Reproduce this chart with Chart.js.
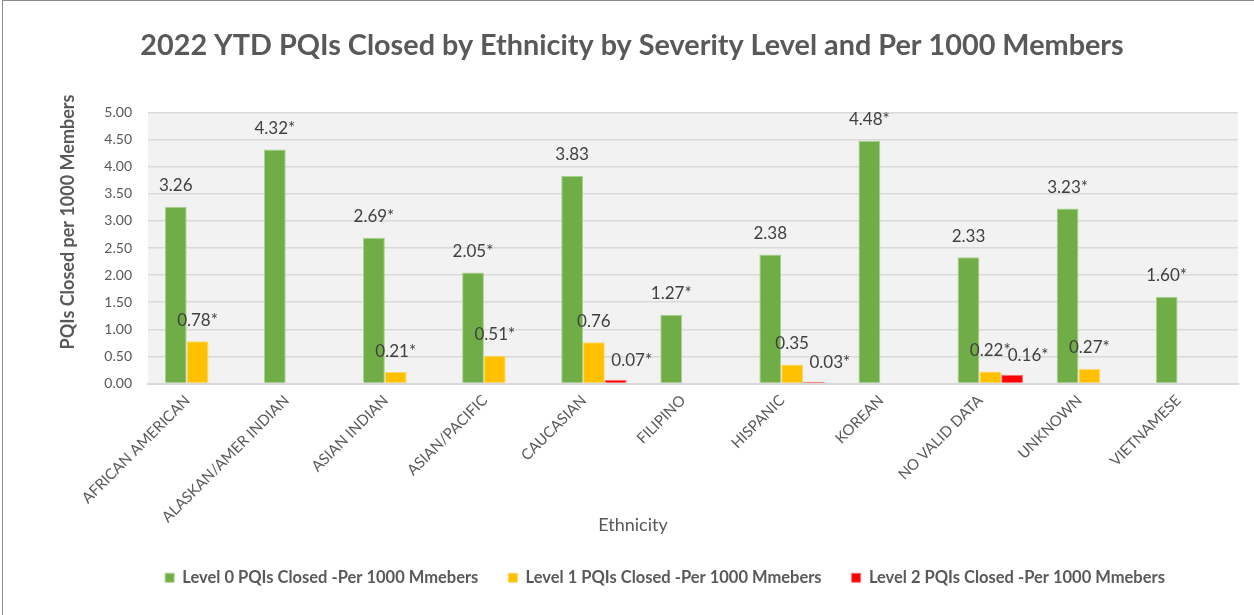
<!DOCTYPE html>
<html>
<head>
<meta charset="utf-8">
<script src="https://cdn.jsdelivr.net/npm/chart.js@4"></script>
<style>
  body { margin: 0; background: #fff; }
  #wrap { position: relative; width: 1254px; height: 615px; }
  #frame { position: absolute; left: 2px; top: 0; width: 1260px; height: 620px;
           border-top: 1px solid #8c8c8c; border-left: 1px solid #8c8c8c; pointer-events: none; }
</style>
</head>
<body>
<div id="wrap">
  <canvas id="pqiChart" width="1254" height="615"></canvas>
  <div id="frame"></div>
</div>
<script>
const ethnicities = ['AFRICAN AMERICAN', 'ALASKAN/AMER INDIAN', 'ASIAN INDIAN', 'ASIAN/PACIFIC', 'CAUCASIAN',
  'FILIPINO', 'HISPANIC', 'KOREAN', 'NO VALID DATA', 'UNKNOWN', 'VIETNAMESE'];

const level0 = [3.26, 4.32, 2.69, 2.05, 3.83, 1.27, 2.38, 4.48, 2.33, 3.23, 1.60];
const level1 = [0.78, null, 0.21, 0.51, 0.76, null, 0.35, null, 0.22, 0.27, null];
const level2 = [null, null, null, null, 0.07, null, 0.03, null, 0.16, null, null];

// asterisk markers shown after the value
const level0Flags = ['', '*', '*', '*', '', '*', '', '*', '', '*', '*'];
const level1Flags = ['*', '', '*', '*', '', '', '', '', '*', '*', ''];
const level2Flags = ['', '', '', '', '*', '', '*', '', '*', '', ''];

const yTicks = [0, 0.5, 1, 1.5, 2, 2.5, 3, 3.5, 4, 4.5, 5];

const xTitle = 'Ethnicity';
const yTitle = 'PQIs Closed per 1000 Members';

const txt = '#595959';
const fontFam = 'Lato, "Open Sans", sans-serif';

const plotBg = {
  id: 'plotBg',
  beforeDraw(c) {
    const a = c.chartArea, ctx = c.ctx;
    ctx.save();
    ctx.fillStyle = '#F2F2F2';
    ctx.fillRect(a.left, a.top, a.right - a.left, a.bottom - a.top);
    ctx.restore();
  }
};

// nudge title and legend the way the original sits them
const nudge = {
  id: 'nudge',
  afterLayout(c) {
    c.titleBlock.left += 13; c.titleBlock.right += 13;
    c.legend.left += 46; c.legend.right += 46;
  }
};

const axisTitles = {
  id: 'axisTitles',
  afterDraw(c) {
    const ctx = c.ctx;
    ctx.save();
    ctx.fillStyle = txt;
    ctx.textAlign = 'center';
    ctx.textBaseline = 'middle';
    ctx.font = '18px ' + fontFam;
    ctx.fillText(xTitle, 633, 525);
    ctx.translate(68, 222);
    ctx.rotate(-Math.PI / 2);
    ctx.font = 'bold 18px ' + fontFam;
    ctx.fillText(yTitle, 0, 0);
    ctx.restore();
  }
};

const barLabels = {
  id: 'barLabels',
  afterDatasetsDraw(c) {
    const ctx = c.ctx;
    ctx.save();
    ctx.font = '17px ' + fontFam;
    ctx.fillStyle = '#404040';
    ctx.textAlign = 'center';
    ctx.textBaseline = 'middle';
    c.data.datasets.forEach((ds, i) => {
      c.getDatasetMeta(i).data.forEach((bar, j) => {
        const v = ds.data[j];
        if (v == null) return;
        ctx.fillText(v.toFixed(2) + ds.flags[j], bar.x + ds.labelShift, bar.y - ds.labelLift);
      });
    });
    ctx.restore();
  }
};

new Chart(document.getElementById('pqiChart'), {
  type: 'bar',
  data: {
    labels: ethnicities,
    datasets: [
      { label: 'Level 0 PQIs Closed -Per 1000 Mmebers', data: level0, flags: level0Flags,
        labelShift: 0, labelLift: 21,
        backgroundColor: '#70AD47', borderColor: '#A9D18E', borderWidth: 1 },
      { label: 'Level 1 PQIs Closed -Per 1000 Mmebers', data: level1, flags: level1Flags,
        labelShift: 0, labelLift: 21,
        backgroundColor: '#FFC000', borderColor: '#FFD966', borderWidth: 1 },
      { label: 'Level 2 PQIs Closed -Per 1000 Mmebers', data: level2, flags: level2Flags,
        labelShift: 16, labelLift: 19,
        backgroundColor: '#FF0000', borderColor: '#FF7070', borderWidth: 1 }
    ]
  },
  options: {
    responsive: false,
    animation: false,
    barPercentage: 1,
    categoryPercentage: 0.66,
    layout: { padding: { top: 20, left: 0, right: 16, bottom: 19 } },
    plugins: {
      title: {
        display: true,
        text: '2022 YTD PQIs Closed by Ethnicity by Severity Level and Per 1000 Members',
        color: txt,
        font: { family: fontFam, size: 28.8, weight: 'bold' },
        padding: { top: 8, bottom: 50 }
      },
      legend: {
        position: 'bottom',
        labels: {
          color: txt,
          font: { family: fontFam, size: 16.5, weight: 'bold' },
          boxWidth: 9, boxHeight: 9, padding: 30
        }
      },
      tooltip: { enabled: false }
    },
    scales: {
      x: {
        grid: { display: false, drawTicks: false },
        border: { color: '#D9D9D9', width: 2 },
        ticks: { color: txt, font: { family: fontFam, size: 15 }, maxRotation: 45, minRotation: 45,
                 padding: 8, labelOffset: -10 },
        afterFit(s) { s.height = 156; }
      },
      y: {
        min: 0, max: 5,
        afterBuildTicks(s) { s.ticks = yTicks.map(v => ({ value: v })); },
        grid: { color: '#D9D9D9', lineWidth: 1.5, drawTicks: false },
        border: { display: false },
        ticks: { color: txt, font: { family: fontFam, size: 14 }, padding: 16,
                 callback: v => Number(v).toFixed(2) },
        afterFit(s) { s.width = 148; }
      }
    }
  },
  plugins: [plotBg, nudge, axisTitles, barLabels]
});
</script>
</body>
</html>
